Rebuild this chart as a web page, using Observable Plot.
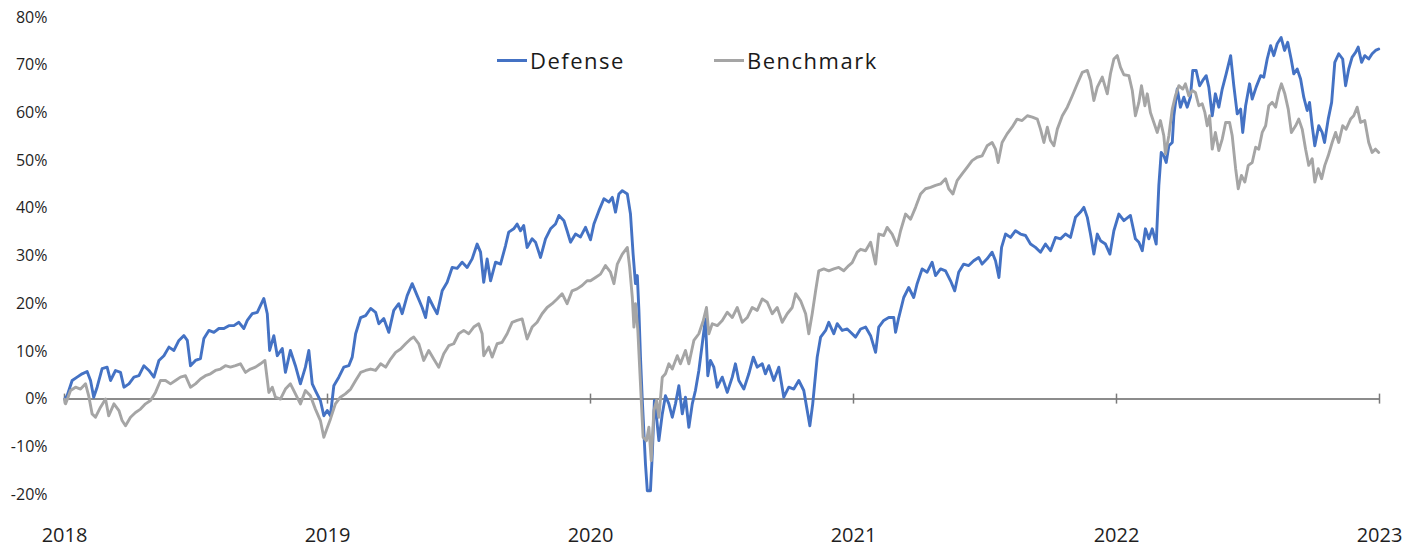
<!DOCTYPE html>
<html>
<head>
<meta charset="utf-8">
<script src="https://cdn.jsdelivr.net/npm/d3@7"></script>
<script src="https://cdn.jsdelivr.net/npm/@observablehq/plot@0.6"></script>
<style>
  body { margin: 0; background: #fff; font-family: "Open Sans", sans-serif; }
  #wrap { position: relative; width: 1406px; height: 547px; }
  .item { position: absolute; top: 45px; display: flex; align-items: center; height: 30px;
          font-size: 22px; letter-spacing: 1.5px; color: #1a1a1a; white-space: nowrap; }
  .sw { width: 30px; height: 3px; margin-right: 3px; }
</style>
</head>
<body>
<div id="wrap"></div>
<script>
// ---- data (cumulative return, %) ----
const seriesNames = ["Defense", "Benchmark"];
const seriesColors = ["#4472C4", "#A5A5A5"];
const yearTicks = [2018, 2019, 2020, 2021, 2022, 2023];
const percentTicks = [-20, -10, 0, 10, 20, 30, 40, 50, 60, 70, 80];

const defenseYears = [2018.000,2018.010,2018.029,2018.048,2018.067,2018.086,2018.099,2018.111,2018.124,2018.143,2018.162,2018.175,2018.194,2018.213,2018.226,2018.245,2018.264,2018.283,2018.302,2018.321,2018.340,2018.359,2018.378,2018.397,2018.416,2018.435,2018.454,2018.467,2018.479,2018.498,2018.517,2018.530,2018.549,2018.568,2018.587,2018.606,2018.625,2018.644,2018.663,2018.682,2018.695,2018.714,2018.733,2018.745,2018.758,2018.771,2018.780,2018.796,2018.809,2018.828,2018.840,2018.859,2018.878,2018.897,2018.916,2018.929,2018.942,2018.954,2018.973,2018.986,2018.999,2019.011,2019.024,2019.043,2019.062,2019.081,2019.094,2019.107,2019.126,2019.145,2019.164,2019.183,2019.195,2019.214,2019.233,2019.252,2019.271,2019.284,2019.303,2019.322,2019.341,2019.360,2019.373,2019.385,2019.404,2019.417,2019.436,2019.455,2019.474,2019.493,2019.512,2019.531,2019.550,2019.569,2019.582,2019.594,2019.607,2019.620,2019.639,2019.658,2019.677,2019.689,2019.708,2019.721,2019.734,2019.746,2019.759,2019.778,2019.791,2019.810,2019.829,2019.848,2019.867,2019.880,2019.899,2019.911,2019.924,2019.943,2019.962,2019.981,2020.000,2020.013,2020.032,2020.051,2020.070,2020.083,2020.095,2020.108,2020.121,2020.140,2020.152,2020.162,2020.171,2020.178,2020.184,2020.190,2020.197,2020.209,2020.216,2020.228,2020.235,2020.243,2020.251,2020.260,2020.273,2020.285,2020.298,2020.311,2020.323,2020.336,2020.349,2020.361,2020.374,2020.387,2020.399,2020.412,2020.425,2020.437,2020.446,2020.456,2020.469,2020.482,2020.501,2020.520,2020.539,2020.551,2020.564,2020.583,2020.602,2020.619,2020.634,2020.653,2020.665,2020.678,2020.697,2020.716,2020.735,2020.754,2020.773,2020.792,2020.811,2020.824,2020.834,2020.845,2020.862,2020.875,2020.894,2020.906,2020.925,2020.938,2020.957,2020.976,2020.989,2021.008,2021.027,2021.046,2021.065,2021.084,2021.096,2021.115,2021.134,2021.153,2021.160,2021.172,2021.191,2021.210,2021.229,2021.242,2021.261,2021.280,2021.299,2021.312,2021.331,2021.350,2021.369,2021.385,2021.400,2021.419,2021.438,2021.457,2021.476,2021.489,2021.508,2021.527,2021.540,2021.553,2021.563,2021.578,2021.597,2021.616,2021.635,2021.654,2021.673,2021.692,2021.711,2021.730,2021.749,2021.768,2021.787,2021.806,2021.825,2021.844,2021.863,2021.876,2021.889,2021.901,2021.914,2021.927,2021.939,2021.958,2021.975,2021.990,2022.009,2022.028,2022.053,2022.072,2022.085,2022.098,2022.110,2022.123,2022.136,2022.151,2022.161,2022.170,2022.180,2022.189,2022.199,2022.212,2022.218,2022.231,2022.243,2022.256,2022.269,2022.281,2022.290,2022.303,2022.316,2022.328,2022.341,2022.351,2022.364,2022.376,2022.389,2022.402,2022.417,2022.434,2022.446,2022.459,2022.472,2022.480,2022.491,2022.506,2022.516,2022.531,2022.548,2022.560,2022.573,2022.586,2022.598,2022.611,2022.626,2022.639,2022.651,2022.664,2022.674,2022.687,2022.700,2022.712,2022.725,2022.734,2022.744,2022.754,2022.769,2022.782,2022.791,2022.805,2022.818,2022.830,2022.845,2022.860,2022.871,2022.883,2022.896,2022.909,2022.919,2022.932,2022.944,2022.959,2022.972,2022.985,2022.997];
const defenseValues = [0,0.7,3.9,4.6,5.3,5.8,3.9,0.4,2.5,6.4,6.7,3.9,6.0,5.6,2.5,3.2,4.6,4.9,7.0,6.0,4.6,8.1,9.1,10.9,10.2,12.3,13.3,12.3,7.0,8.1,8.5,12.7,14.4,14.0,14.8,14.8,15.4,15.4,16.1,14.8,16.5,17.9,18.2,19.6,21.1,17.9,10.2,13.3,9.1,10.6,5.6,10.2,7.0,3.2,6.7,10.2,3.2,1.8,-0.3,-3.5,-2.4,-3.5,2.8,4.6,6.7,7.0,8.8,13.7,17.1,17.5,19.0,18.2,15.8,16.9,14.0,18.6,20.0,17.9,21.7,24.2,21.7,19.2,17.1,21.3,19.2,17.9,22.7,24.5,27.6,27.4,28.7,27.6,29.4,32.5,30.8,24.5,29.4,24.8,28.7,28.3,32.2,35.0,35.7,36.7,35.3,36.4,31.8,33.6,32.9,29.7,33.6,35.7,36.7,38.5,37.4,35.3,32.9,34.6,34.0,36.0,33.4,36.7,39.5,42.0,41.3,42.3,39.2,43.0,43.7,43.0,38.8,30.4,24.2,25.9,18.6,8.8,-0.3,-13.6,-19.2,-19.2,-11.5,-0.3,-3.8,-8.7,-3.1,0.7,-1.0,-3.8,-1.0,2.8,-3.1,0.4,-5.9,-1.0,1.8,6.0,11.6,16.8,4.9,8.1,6.7,2.5,4.6,1.4,4.6,7.4,3.9,2.1,5.3,8.8,6.7,7.4,5.3,7.0,3.9,6.7,0.4,2.5,2.1,3.9,1.8,-2.4,-5.6,-1.0,8.8,13.0,14.4,16.1,13.7,15.8,14.4,14.7,14.0,13.0,14.7,15.1,13.3,9.8,15.1,16.5,17.1,17.1,14.0,17.1,21.3,23.4,21.3,24.2,27.3,26.6,28.7,25.9,27.3,26.9,24.8,22.7,26.6,28.3,28.0,29.0,29.7,28.3,29.4,30.8,29.0,25.5,31.8,34.6,33.9,35.3,34.6,34.3,32.5,31.8,30.8,32.5,31.1,33.9,33.6,34.6,33.9,38.1,39.2,40.2,38.1,34.6,30.4,34.6,33.2,32.5,30.4,35.3,38.8,37.4,38.5,33.6,32.9,31.1,35.7,33.6,35.7,32.5,44.8,51.7,51.0,49.6,53.1,53.8,59.4,65.0,61.2,63.3,61.2,63.3,68.9,68.9,65.7,66.8,67.8,65.4,59.4,64.0,61.2,65.0,68.2,72.0,65.7,59.8,60.8,55.9,61.5,66.1,62.9,65.4,67.8,67.5,71.3,74.1,72.0,74.5,75.8,73.1,74.8,71.3,68.2,69.2,67.1,63.3,60.5,62.2,57.3,53.1,57.3,55.9,53.8,58.7,62.2,70.6,72.4,71.3,65.7,69.2,71.7,72.7,73.8,70.6,72.0,71.3,72.4,73.1,73.4];

const benchmarkYears = [2018.000,2018.004,2018.023,2018.042,2018.061,2018.080,2018.092,2018.105,2018.118,2018.137,2018.156,2018.168,2018.188,2018.207,2018.219,2018.232,2018.251,2018.270,2018.289,2018.308,2018.327,2018.346,2018.365,2018.384,2018.403,2018.422,2018.441,2018.460,2018.479,2018.498,2018.517,2018.536,2018.555,2018.574,2018.593,2018.612,2018.631,2018.650,2018.669,2018.688,2018.707,2018.726,2018.745,2018.762,2018.777,2018.790,2018.802,2018.821,2018.840,2018.859,2018.878,2018.897,2018.916,2018.935,2018.954,2018.973,2018.986,2018.999,2019.011,2019.030,2019.049,2019.068,2019.088,2019.107,2019.126,2019.145,2019.164,2019.183,2019.202,2019.221,2019.240,2019.259,2019.278,2019.297,2019.316,2019.328,2019.347,2019.366,2019.385,2019.404,2019.423,2019.442,2019.461,2019.480,2019.499,2019.518,2019.537,2019.556,2019.575,2019.588,2019.594,2019.613,2019.626,2019.645,2019.664,2019.683,2019.702,2019.721,2019.740,2019.759,2019.778,2019.797,2019.816,2019.835,2019.854,2019.873,2019.892,2019.911,2019.930,2019.949,2019.968,2019.987,2020.000,2020.019,2020.038,2020.057,2020.076,2020.089,2020.102,2020.121,2020.140,2020.149,2020.159,2020.165,2020.171,2020.180,2020.190,2020.200,2020.213,2020.222,2020.231,2020.241,2020.251,2020.260,2020.273,2020.285,2020.298,2020.311,2020.330,2020.342,2020.361,2020.374,2020.393,2020.412,2020.429,2020.441,2020.450,2020.463,2020.482,2020.501,2020.520,2020.539,2020.558,2020.577,2020.596,2020.615,2020.634,2020.653,2020.672,2020.691,2020.710,2020.729,2020.748,2020.767,2020.780,2020.799,2020.818,2020.830,2020.843,2020.856,2020.868,2020.887,2020.906,2020.925,2020.944,2020.963,2020.982,2020.995,2021.014,2021.027,2021.046,2021.065,2021.084,2021.096,2021.115,2021.128,2021.147,2021.166,2021.179,2021.198,2021.217,2021.236,2021.255,2021.274,2021.293,2021.312,2021.331,2021.350,2021.362,2021.378,2021.394,2021.413,2021.432,2021.451,2021.470,2021.489,2021.508,2021.527,2021.540,2021.550,2021.565,2021.584,2021.603,2021.622,2021.641,2021.661,2021.680,2021.699,2021.711,2021.724,2021.737,2021.749,2021.762,2021.775,2021.794,2021.813,2021.832,2021.851,2021.870,2021.889,2021.901,2021.914,2021.927,2021.946,2021.965,2021.977,2021.990,2022.003,2022.015,2022.028,2022.047,2022.060,2022.072,2022.085,2022.095,2022.108,2022.117,2022.129,2022.142,2022.155,2022.167,2022.180,2022.186,2022.199,2022.212,2022.224,2022.237,2022.252,2022.262,2022.275,2022.288,2022.300,2022.313,2022.326,2022.336,2022.345,2022.354,2022.364,2022.376,2022.389,2022.402,2022.415,2022.430,2022.440,2022.453,2022.463,2022.475,2022.488,2022.501,2022.516,2022.529,2022.541,2022.554,2022.567,2022.579,2022.592,2022.605,2022.617,2022.627,2022.640,2022.653,2022.665,2022.681,2022.693,2022.706,2022.719,2022.731,2022.744,2022.754,2022.767,2022.780,2022.792,2022.805,2022.820,2022.833,2022.845,2022.860,2022.873,2022.890,2022.902,2022.915,2022.928,2022.944,2022.959,2022.972,2022.985,2022.997];
const benchmarkValues = [0,-1.0,1.8,2.5,2.1,3.2,0.7,-3.1,-3.8,-1.7,0.0,-3.5,-1.0,-2.4,-4.5,-5.6,-3.8,-2.8,-2.1,-1.0,-0.3,1.4,3.9,3.9,3.2,3.9,4.6,4.9,2.5,3.2,4.2,4.9,5.3,6.0,6.3,7.0,6.7,7.0,7.4,5.6,6.3,6.7,7.4,8.1,1.4,2.5,0.4,0.0,2.1,3.2,1.1,-1.0,1.8,0.7,-2.1,-4.5,-8.0,-6.0,-4.2,-1.0,0.4,1.1,2.1,3.9,5.6,6.0,6.3,6.0,7.4,6.7,8.4,9.8,10.5,11.6,12.6,13.0,11.6,8.1,10.2,8.4,6.7,9.5,11.2,11.6,13.7,14.4,13.7,15.1,15.8,13.7,9.1,10.9,8.8,11.6,11.9,13.7,16.1,16.5,16.8,12.6,15.1,16.1,17.9,19.2,20.0,21.0,22.1,20.0,22.7,23.1,23.8,24.8,24.8,25.5,26.2,28.0,26.6,24.2,28.3,30.4,31.8,27.6,21.3,15.1,20.0,14.4,3.2,-8.0,-8.7,-5.9,-12.9,-2.4,-0.3,-3.8,4.6,5.3,7.4,6.3,9.1,7.4,10.2,7.4,12.3,13.7,16.5,19.2,13.7,15.8,15.4,16.5,18.2,17.1,19.2,16.1,17.1,19.2,18.6,21.0,20.3,17.9,19.2,16.1,17.9,19.2,22.1,20.6,17.9,13.7,17.9,22.7,26.9,27.3,26.9,27.3,27.6,26.9,28.0,28.6,30.8,31.4,31.1,32.9,28.3,34.6,34.3,36.0,34.6,32.2,35.3,38.8,37.7,40.2,43.0,44.1,44.4,44.8,45.1,46.2,44.1,43.0,45.8,47.2,48.6,50.0,50.7,51.0,53.1,53.8,52.4,49.6,53.8,55.6,57.0,58.7,58.4,59.4,59.1,58.7,56.6,53.8,57.0,54.2,53.1,56.6,59.4,61.2,63.6,66.1,68.5,68.9,66.8,62.6,65.4,67.5,64.0,68.2,71.3,72.0,69.6,68.0,67.8,64.7,59.4,62.2,65.7,61.5,64.0,60.1,58.0,55.9,58.4,55.2,51.4,55.2,60.8,63.6,65.7,65.0,66.1,63.6,64.7,64.3,61.5,61.9,60.1,57.3,59.4,52.4,55.9,52.1,54.5,58.0,58.0,55.2,48.3,44.1,46.9,45.5,49.0,49.6,52.8,52.4,55.9,57.3,61.5,62.2,61.2,64.3,66.1,64.0,60.8,55.9,57.3,58.7,56.6,52.4,49.0,50.4,45.5,48.3,46.2,49.0,51.0,53.8,55.9,53.8,57.3,56.6,58.7,59.4,61.2,58.0,58.4,53.8,51.7,52.4,51.7];

// ---- build tables ----
const defense = defenseYears.map((t, i) => ({ series: seriesNames[0], t, v: defenseValues[i] }));
const benchmark = benchmarkYears.map((t, i) => ({ series: seriesNames[1], t, v: benchmarkValues[i] }));

const chart = Plot.plot({
  width: 1406,
  height: 547,
  marginLeft: 64,
  marginRight: 27,
  marginTop: 17,
  marginBottom: 53,
  style: { fontFamily: "Open Sans, sans-serif", color: "#1f1f1f", background: "transparent" },
  x: { domain: [2018, 2023] },
  y: { domain: [-20, 80] },
  marks: [
    Plot.axisY({ ticks: percentTicks, tickFormat: d => d + "%", tickSize: 0, tickPadding: 17, fontSize: 16, label: null }),
    Plot.axisX({ ticks: yearTicks, tickFormat: d => String(d), tickSize: 0, tickPadding: 33, fontSize: 20, label: null }),
    Plot.ruleY([0], { stroke: "#8c8c8c", strokeWidth: 2 }),
    Plot.ruleX(yearTicks, { x: d => d, y1: 0, y2: 0, insetTop: -5, insetBottom: -5, stroke: "#7a7a7a", strokeWidth: 1.5 }),
    Plot.line(defense, { x: "t", y: "v", stroke: seriesColors[0], strokeWidth: 2.9, strokeLinejoin: "round" }),
    Plot.line(benchmark, { x: "t", y: "v", stroke: seriesColors[1], strokeWidth: 2.9, strokeLinejoin: "round" })
  ]
});

const wrap = document.getElementById("wrap");
wrap.appendChild(chart);

// legend (inside plot area, top centre)
const legendLeft = [497, 714];
seriesNames.forEach((name, i) => {
  const item = document.createElement("div");
  item.className = "item";
  item.style.left = legendLeft[i] + "px";
  const sw = document.createElement("span");
  sw.className = "sw";
  sw.style.background = seriesColors[i];
  const label = document.createElement("span");
  label.textContent = name;
  item.appendChild(sw);
  item.appendChild(label);
  wrap.appendChild(item);
});
</script>
</body>
</html>
